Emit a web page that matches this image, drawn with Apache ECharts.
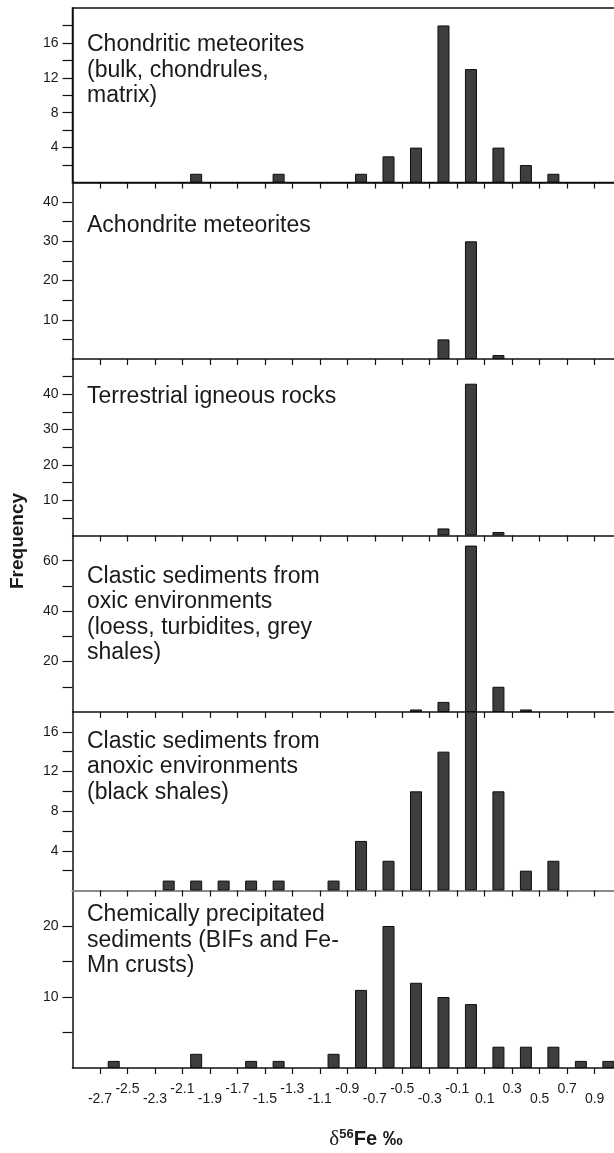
<!DOCTYPE html>
<html>
<head>
<meta charset="utf-8">
<title>Iron isotope distributions</title>
<script src="https://cdn.jsdelivr.net/npm/echarts@6.0.0/dist/echarts.min.js"></script>
<style>
  html, body { margin: 0; padding: 0; background: #fff; overflow: hidden; }
  /* plot area runs past the right edge of the page, so the canvas is a little wider */
  #chart { width: 640px; height: 1153px; }
</style>
</head>
<body>
<div id="chart"></div>
<script>
// Histogram bin centres (δ56Fe, per mil), bins 0.2 wide
const binCenters = [-2.8, -2.6, -2.4, -2.2, -2.0, -1.8, -1.6, -1.4, -1.2, -1.0,
                    -0.8, -0.6, -0.4, -0.2, 0.0, 0.2, 0.4, 0.6, 0.8, 1.0];

// Counts per bin for each sample group
const chondritic  = [0, 0, 0, 0, 1, 0, 0, 1, 0, 0, 1, 3, 4, 18, 13, 4, 2, 1, 0, 0];
const achondrite  = [0, 0, 0, 0, 0, 0, 0, 0, 0, 0, 0, 0, 0, 5, 30, 1, 0, 0, 0, 0];
const terrestrial = [0, 0, 0, 0, 0, 0, 0, 0, 0, 0, 0, 0, 0, 2, 43, 1, 0, 0, 0, 0];
const oxicClastic = [0, 0, 0, 0, 0, 0, 0, 0, 0, 0, 0, 0, 1, 4, 66, 10, 1, 0, 0, 0];
const anoxicClastic = [0, 0, 0, 1, 1, 1, 1, 1, 0, 1, 5, 3, 10, 14, 19, 10, 2, 3, 0, 0];
const chemical    = [0, 1, 0, 0, 2, 0, 1, 1, 0, 2, 11, 20, 12, 10, 9, 3, 3, 3, 1, 1];

const panelNames = [
  'Chondritic meteorites\n(bulk, chondrules,\nmatrix)',
  'Achondrite meteorites',
  'Terrestrial igneous rocks',
  'Clastic sediments from\noxic environments\n(loess, turbidites, grey\nshales)',
  'Clastic sediments from\nanoxic environments\n(black shales)',
  'Chemically precipitated\nsediments (BIFs and Fe-\nMn crusts)'
];
const panelCounts = [chondritic, achondrite, terrestrial, oxicClastic, anoxicClastic, chemical];

// x-axis tick marks and labels
const xTickValues = [-2.7, -2.5, -2.3, -2.1, -1.9, -1.7, -1.5, -1.3, -1.1, -0.9,
                     -0.7, -0.5, -0.3, -0.1, 0.1, 0.3, 0.5, 0.7, 0.9, 1.1];
const xLabelValues = [-2.7, -2.5, -2.3, -2.1, -1.9, -1.7, -1.5, -1.3, -1.1, -0.9,
                      -0.7, -0.5, -0.3, -0.1, 0.1, 0.3, 0.5, 0.7, 0.9];

// y-axis ranges, tick marks and labels per panel
const yMax = [20, 45, 50, 70, 18, 25];
const yTickValues = [
  [2, 4, 6, 8, 10, 12, 14, 16, 18],
  [5, 10, 15, 20, 25, 30, 35, 40],
  [5, 10, 15, 20, 25, 30, 35, 40, 45],
  [10, 20, 30, 40, 50, 60],
  [2, 4, 6, 8, 10, 12, 14, 16],
  [5, 10, 15, 20]
];
const yLabelValues = [
  [4, 8, 12, 16],
  [10, 20, 30, 40],
  [10, 20, 30, 40],
  [20, 40, 60],
  [4, 8, 12, 16],
  [10, 20]
];

// panel layout (pixel edges of each plot area)
const panelEdges = [8, 182.5, 359, 535.5, 712, 890.5, 1068];
const plotLeft = 72.5;
const plotWidth = 549.6;
const nameTops = [32, 212.5, 383.5, 563.5, 728.5, 902];

const FONT = '"Liberation Sans", Arial, Helvetica, sans-serif';
const INK = '#1a1a1a';

const grids = [], xAxes = [], yAxes = [], series = [], graphics = [];

panelCounts.forEach(function (counts, i) {
  const last = i === panelCounts.length - 1;
  grids.push({
    left: plotLeft,
    width: plotWidth,
    top: panelEdges[i],
    height: panelEdges[i + 1] - panelEdges[i],
    show: i === 0,
    borderColor: '#111',
    borderWidth: 1.5,
    backgroundColor: 'transparent'
  });
  xAxes.push({
    type: 'value',
    gridIndex: i,
    min: -2.9,
    max: 1.1,
    splitLine: { show: false },
    axisLine: {
      onZero: false,
      lineStyle: { color: i === 4 ? '#8a8a8a' : '#111', width: i === 4 ? 2 : 1.5 }
    },
    axisTick: {
      show: true,
      inside: false,
      length: 6,
      customValues: xTickValues,
      lineStyle: { color: '#111', width: 1.2 }
    },
    axisLabel: {
      show: last,
      customValues: xLabelValues,
      margin: 14,
      formatter: function (v) {
        const k = Math.round((v + 2.7) / 0.2);
        const txt = v.toFixed(1);
        return k % 2 === 0 ? '{lo|' + txt + '}' : '{hi|' + txt + '}';
      },
      rich: {
        lo: { fontFamily: FONT, fontSize: 14, color: INK, padding: [10, 0, 0, 0] },
        hi: { fontFamily: FONT, fontSize: 14, color: INK }
      }
    }
  });
  yAxes.push({
    type: 'value',
    gridIndex: i,
    min: 0,
    max: yMax[i],
    splitLine: { show: false },
    axisLine: { show: true, onZero: false, lineStyle: { color: '#111', width: 1.5 } },
    axisTick: {
      show: true,
      inside: false,
      length: 10,
      customValues: yTickValues[i],
      lineStyle: { color: '#111', width: 1.2 }
    },
    axisLabel: {
      show: true,
      customValues: yLabelValues[i],
      margin: 14,
      fontFamily: FONT,
      fontSize: 14,
      color: INK
    }
  });
  const data = [];
  counts.forEach(function (c, j) {
    if (c > 0) data.push([binCenters[j], c]);
  });
  series.push({
    type: 'bar',
    xAxisIndex: i,
    yAxisIndex: i,
    barWidth: 12,
    clip: true,
    data: data,
    itemStyle: { color: '#3d3e3d', borderColor: '#0d0d0d', borderWidth: 1 },
    emphasis: { disabled: true }
  });
  graphics.push({
    type: 'text',
    left: 87,
    top: nameTops[i],
    z: 10,
    style: {
      text: panelNames[i],
      font: '23px ' + FONT,
      lineHeight: 25.5,
      fill: INK
    }
  });
});

// axis titles
graphics.push({
  type: 'text',
  x: 18,
  y: 541,
  rotation: Math.PI / 2,
  style: {
    text: 'Frequency',
    font: 'bold 19px ' + FONT,
    fill: INK,
    align: 'center',
    verticalAlign: 'middle'
  }
});
graphics.push({
  type: 'text',
  x: 366,
  y: 1139,
  style: {
    text: '{d|δ}{s|56}{b|Fe ‰}',
    align: 'center',
    verticalAlign: 'middle',
    fill: INK,
    rich: {
      d: { font: '21px "Liberation Serif", "DejaVu Serif", serif', fill: INK, lineHeight: 24, verticalAlign: 'middle' },
      s: { font: 'bold 13px ' + FONT, fill: INK, lineHeight: 24, verticalAlign: 'top', padding: [1, 0, 0, 0] },
      b: { font: 'bold 20px ' + FONT, fill: INK, lineHeight: 24, verticalAlign: 'middle' }
    }
  }
});

const chart = echarts.init(document.getElementById('chart'), null, { renderer: 'canvas' });
chart.setOption({
  animation: false,
  backgroundColor: '#ffffff',
  grid: grids,
  xAxis: xAxes,
  yAxis: yAxes,
  series: series,
  graphic: graphics
});
</script>
</body>
</html>
